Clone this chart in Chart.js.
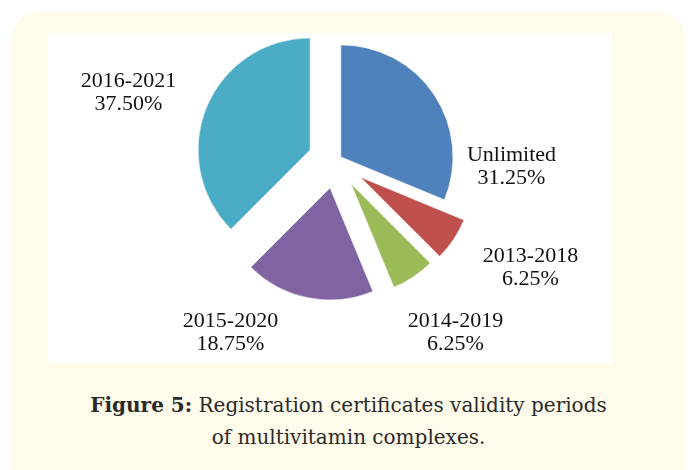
<!DOCTYPE html>
<html lang="en">
<head>
<meta charset="UTF-8">
<title>Figure 5</title>
<script src="https://cdn.jsdelivr.net/npm/chart.js"></script>
<style>
    html, body {
        margin: 0;
        padding: 0;
        background: #ffffff;
    }
    body {
        width: 690px;
        height: 470px;
        position: relative;
        overflow: hidden;
    }
    .panel {
        position: absolute;
        left: 12px;
        top: 12px;
        width: 673px;
        height: 480px;
        border-radius: 26px;
        background: #fefbea;
    }
    .plot {
        position: absolute;
        left: 48px;
        top: 33px;
        width: 564px;
        height: 330px;
        background: #ffffff;
    }
    .caption {
        position: absolute;
        left: 12px;
        width: 673px;
        top: 389px;
        text-align: center;
        font-family: "DejaVu Serif", serif;
        font-size: 20px;
        line-height: 32px;
        color: #2a2a2a;
    }
</style>
</head>
<body>
<div class="panel"></div>
<div class="plot"><canvas id="pieChart" width="564" height="330"></canvas></div>
<div class="caption"><b>Figure 5:</b> Registration certificates validity periods<br>of multivitamin complexes.</div>

<script>
// validity periods and their share of certificates (%)
const categories = ['Unlimited', '2013-2018', '2014-2019', '2015-2020', '2016-2021'];
const shares = [31.25, 6.25, 6.25, 18.75, 37.5];
const sliceColors = ['#4f81bd', '#c0504d', '#9bbb59', '#8064a2', '#4bacc6'];

// how far each slice is pulled out of the pie (px)
const explode = [6.5, 30, 28, 28, 27.5];
// label position relative to pie centre (first baseline, px)
const labelOffsets = [[176, 0], [195, 101], [120, 166], [-105, 166], [-207, -74]];

// draw each arc translated along its middle angle
const explodePlugin = {
    id: 'explode',
    beforeDatasetDraw(chart, args) {
        const ctx = chart.ctx;
        args.meta.data.forEach((arc, i) => {
            const mid = (arc.startAngle + arc.endAngle) / 2;
            ctx.save();
            ctx.translate(Math.cos(mid) * explode[i], Math.sin(mid) * explode[i]);
            arc.draw(ctx);
            ctx.restore();
        });
        return false;
    }
};

const sliceLabels = {
    id: 'sliceLabels',
    afterDatasetsDraw(chart) {
        const ctx = chart.ctx;
        const meta = chart.getDatasetMeta(0);
        const cx = meta.data[0].x;
        const cy = meta.data[0].y;
        ctx.save();
        ctx.font = '22px "Liberation Serif"';
        ctx.fillStyle = '#111111';
        ctx.textAlign = 'center';
        ctx.textBaseline = 'alphabetic';
        categories.forEach((name, i) => {
            const x = cx + labelOffsets[i][0];
            const y = cy + labelOffsets[i][1];
            ctx.fillText(name, x, y);
            ctx.fillText(shares[i].toFixed(2) + '%', x, y + 23);
        });
        ctx.restore();
    }
};

new Chart(document.getElementById('pieChart'), {
    type: 'pie',
    data: {
        labels: categories,
        datasets: [{
            data: shares,
            backgroundColor: sliceColors,
            borderColor: 'rgba(255,255,255,0.5)',
            borderWidth: 1,
            radius: 112
        }]
    },
    options: {
        responsive: false,
        animation: false,
        events: [],
        layout: {
            padding: { left: 11, right: 0, top: 0, bottom: 75 }
        },
        plugins: {
            legend: { display: false },
            tooltip: { enabled: false }
        }
    },
    plugins: [explodePlugin, sliceLabels]
});
</script>
</body>
</html>
